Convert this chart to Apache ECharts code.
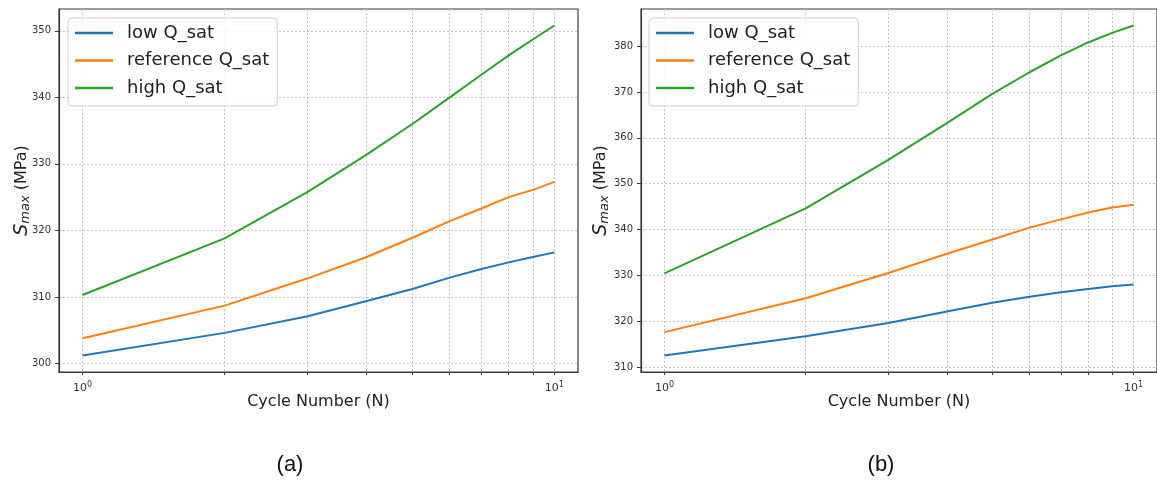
<!DOCTYPE html>
<html>
<head>
<meta charset="utf-8">
<script src="https://cdn.jsdelivr.net/npm/echarts@6/dist/echarts.min.js"></script>
<style>
  html, body { margin: 0; padding: 0; background: #fff; }
  #chart { width: 1157px; height: 484px; }
</style>
</head>
<body>
<div id="chart"></div>
<script>
// Cycle numbers (log x axis)
const cycles = [1, 2, 3, 4, 5, 6, 7, 8, 9, 10];

// Panel (a): S_max vs cycle number
const aLow  = [301.2, 304.6, 307.1, 309.4, 311.2, 312.9, 314.2, 315.2, 316.0, 316.7];
const aRef  = [303.8, 308.7, 312.8, 316.0, 318.9, 321.4, 323.3, 325.0, 326.1, 327.3];
const aHigh = [310.3, 318.8, 325.8, 331.4, 336.0, 340.0, 343.4, 346.3, 348.7, 350.8];

// Panel (b): S_max vs cycle number
const bLow  = [312.5, 316.7, 319.6, 322.1, 324.0, 325.3, 326.3, 327.0, 327.6, 328.0];
const bRef  = [317.6, 325.0, 330.5, 334.7, 337.8, 340.4, 342.2, 343.7, 344.8, 345.4];
const bHigh = [330.4, 344.6, 355.2, 363.2, 369.6, 374.3, 378.0, 380.8, 382.9, 384.5];

const seriesNames = ['low Q_sat', 'reference Q_sat', 'high Q_sat'];
const colors = ['#1f77b4', '#ff7f0e', '#2ca02c'];

// Tick values
const aYTicks = [300, 310, 320, 330, 340, 350];
const bYTicks = [310, 320, 330, 340, 350, 360, 370, 380];
const xMajor = [1, 10];
const xAllTicks = [1, 2, 3, 4, 5, 6, 7, 8, 9, 10];

// 5% autoscale margins (log space for x)
function padExtent(arrs) {
  const all = [].concat(...arrs);
  const lo = Math.min(...all), hi = Math.max(...all);
  const m = (hi - lo) * 0.05;
  return [lo - m, hi + m];
}
const aExt = padExtent([aLow, aRef, aHigh]);
const bExt = padExtent([bLow, bRef, bHigh]);
const lx0 = Math.log10(cycles[0]), lx1 = Math.log10(cycles[cycles.length - 1]);
const xMin = Math.pow(10, lx0 - (lx1 - lx0) * 0.05);
const xMax = Math.pow(10, lx1 + (lx1 - lx0) * 0.05);

const FONT = 'DejaVu Sans';
const gridLine = { show: true, lineStyle: { color: '#c4c4c4', width: 1, type: [2, 2] } };
const spine = { show: true, lineStyle: { color: '#3a3a3a', width: 1.2 } };

function xAxisCfg(gridIndex) {
  return {
    type: 'log', logBase: 10, gridIndex, min: xMin, max: xMax,
    axisLine: spine,
    axisTick: { show: true, length: 3, customValues: xAllTicks, lineStyle: { color: '#3a3a3a' } },
    splitLine: gridLine,
    axisLabel: {
      customValues: xMajor, margin: 9, color: '#333', fontFamily: FONT, fontSize: 11,
      formatter: v => '{b|10}{sup|' + Math.round(Math.log10(v)) + '}',
      rich: {
        b: { fontFamily: FONT, fontSize: 11, color: '#333' },
        sup: { fontFamily: FONT, fontSize: 8, color: '#333', verticalAlign: 'top', padding: [0, 0, 6, 0] }
      }
    },
    name: 'Cycle Number (N)', nameLocation: 'middle', nameGap: 22, nameMoveOverlap: false,
    nameTextStyle: { fontFamily: FONT, fontSize: 16, color: '#222' }
  };
}

function yAxisCfg(gridIndex, ext, ticks, gap) {
  return {
    type: 'value', gridIndex, min: ext[0], max: ext[1],
    axisLine: spine,
    axisTick: { show: true, length: 4, customValues: ticks, lineStyle: { color: '#3a3a3a' } },
    splitLine: gridLine,
    axisLabel: { customValues: ticks, margin: 8, color: '#333', fontFamily: FONT, fontSize: 10 },
    name: '{s|S}{sub|max}{r| (MPa)}', nameLocation: 'middle', nameRotate: 90, nameGap: gap, nameMoveOverlap: false,
    nameTextStyle: {
      rich: {
        s: { fontFamily: FONT, fontSize: 19, fontStyle: 'italic', color: '#222' },
        sub: { fontFamily: FONT, fontSize: 13, fontStyle: 'italic', color: '#222', verticalAlign: 'bottom', padding: [7, 0, 0, 0] },
        r: { fontFamily: FONT, fontSize: 16, color: '#222' }
      }
    }
  };
}

function legendCfg(left) {
  return {
    left, top: 18, orient: 'vertical',
    data: seriesNames,
    icon: 'rect', itemWidth: 38, itemHeight: 2.5, itemGap: 9.5,
    padding: [6, 8, 9, 7],
    backgroundColor: 'rgba(255,255,255,0.85)',
    borderColor: '#d0d0d0', borderWidth: 1, borderRadius: 4,
    textStyle: { fontFamily: FONT, fontSize: 18, color: '#222', lineHeight: 18, padding: [0, 0, 0, 9] },
    selectedMode: false
  };
}

function lineSeries(name, data, idx, axisIndex) {
  return {
    type: 'line', name, xAxisIndex: axisIndex, yAxisIndex: axisIndex,
    data: cycles.map((c, i) => [c, data[i]]),
    symbol: 'none', smooth: false,
    lineStyle: { color: colors[idx], width: 2 },
    itemStyle: { color: colors[idx] },
    emphasis: { disabled: true }, z: 3
  };
}

const option = {
  animation: false,
  backgroundColor: '#fff',
  grid: [
    { left: 59, top: 9, width: 519, height: 363, show: true, borderColor: '#3a3a3a', borderWidth: 1.2, backgroundColor: 'transparent' },
    { left: 641, top: 9, width: 518, height: 363, show: true, borderColor: '#3a3a3a', borderWidth: 1.2, backgroundColor: 'transparent' }
  ],
  xAxis: [xAxisCfg(0), xAxisCfg(1)],
  yAxis: [yAxisCfg(0, aExt, aYTicks, 27), yAxisCfg(1, bExt, bYTicks, 30)],
  legend: [legendCfg(68), legendCfg(649)],
  series: [
    lineSeries(seriesNames[0], aLow, 0, 0),
    lineSeries(seriesNames[1], aRef, 1, 0),
    lineSeries(seriesNames[2], aHigh, 2, 0),
    lineSeries(seriesNames[0], bLow, 0, 1),
    lineSeries(seriesNames[1], bRef, 1, 1),
    lineSeries(seriesNames[2], bHigh, 2, 1)
  ],
  graphic: [
    { type: 'text', x: 290, y: 465, style: { text: '(a)', font: '22px "Liberation Sans"', fill: '#111', align: 'center', verticalAlign: 'middle' } },
    { type: 'text', x: 881, y: 465, style: { text: '(b)', font: '22px "Liberation Sans"', fill: '#111', align: 'center', verticalAlign: 'middle' } }
  ]
};

const chart = echarts.init(document.getElementById('chart'), null, { renderer: 'canvas' });
chart.setOption(option);
</script>
</body>
</html>
